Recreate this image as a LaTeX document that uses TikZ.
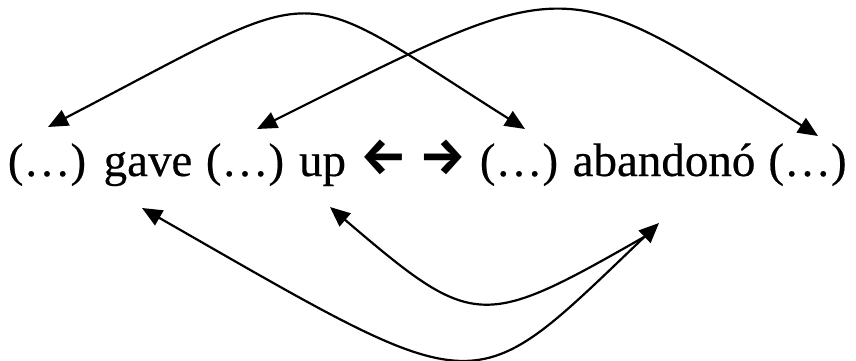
\documentclass[tikz,border=0pt]{standalone}
\usepackage{fontspec}
\setmainfont{Liberation Serif}
\newfontface\scanfont{Liberation Serif}[FakeBold=0.4]
\newfontfamily\arrowfont{Fira Sans}
\usetikzlibrary{arrows.meta}
\begin{document}
\begin{tikzpicture}[x=1pt,y=-1pt,
  word/.style={inner sep=0pt, anchor=base, font=\scanfont\fontsize{47}{50}\selectfont},
  arr/.style={inner sep=0pt, anchor=center, font=\arrowfont\bfseries\fontsize{52}{56}\selectfont},
  link/.style={line width=2.2pt, {Triangle[length=20pt,width=17pt]}-{Triangle[length=20pt,width=17pt]}},
  halflink/.style={line width=2.2pt, {Triangle[length=20pt,width=17pt]}-}]
\useasboundingbox (0,0) rectangle (856,361);
% words
\node[word] (p1) at (47,176) {(…)};
\node[word] (gave) at (148,176) {gave};
\node[word] (p2) at (245,176) {(…)};
\node[word] (up) at (322.5,176) {up};
\node[arr] (la) at (384,157) {←};
\node[arr] (ra) at (443,157) {→};
\node[word] (p3) at (519,176) {(…)};
\node[word] (ab) at (664,176) {abandonó};
\node[word] (p4) at (807.5,176) {(…)};
% connector ends
\coordinate (p1top) at (48,127);
\coordinate (p2top) at (257,129);
\coordinate (p3top) at (525,129);
\coordinate (p4top) at (818,136);
\coordinate (gavebot) at (142,208);
\coordinate (upbot) at (330,207);
\coordinate (abbot) at (659,223);
\coordinate (merge) at (644,237);
% arcs
\draw[link] (p1top) .. controls (334,-21.5) and (286,-21.7) .. (p3top);
\draw[link] (p2top) .. controls (574,-29.4) and (559,-29.6) .. (p4top);
\draw[link] (gavebot) .. controls (488,406) and (468,405) .. (abbot);
\draw[halflink] (upbot) .. controls (474,330) and (481,330) .. (merge);
\end{tikzpicture}
\end{document}
